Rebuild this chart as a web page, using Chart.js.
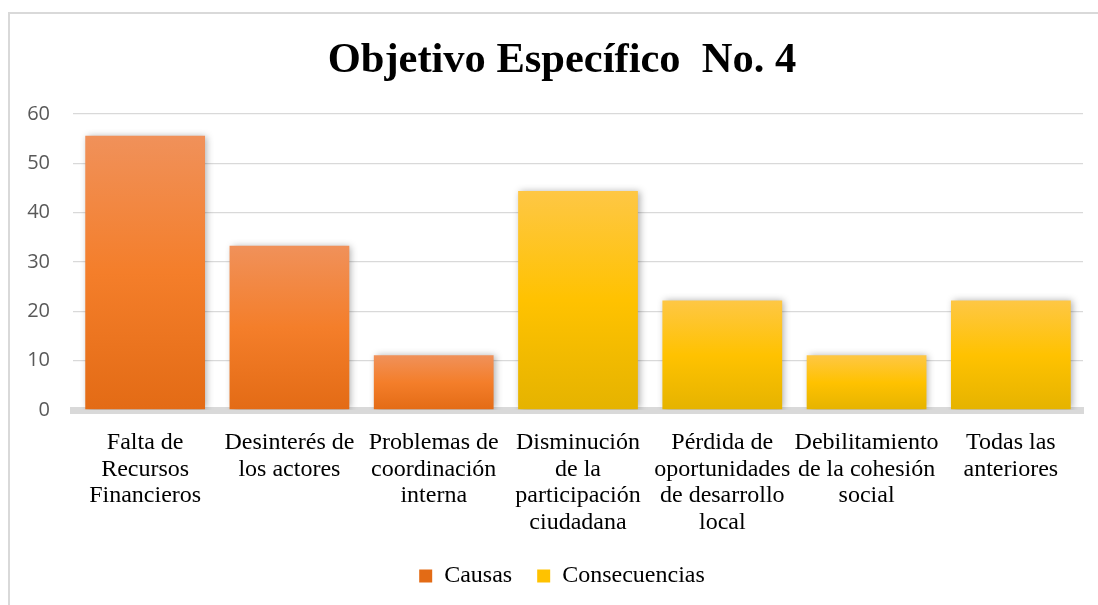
<!DOCTYPE html>
<html>
<head>
<meta charset="utf-8">
<script src="https://cdn.jsdelivr.net/npm/chart.js@4"></script>
<style>
  html, body { margin: 0; padding: 0; background: #fff; overflow: hidden; width: 1098px; height: 605px; }
  #frame { position: absolute; left: 8px; top: 12px; width: 1200px; height: 700px; border-left: 2px solid #d9d9d9; border-top: 2px solid #d9d9d9; }
  #chart { position: absolute; left: 8px; top: 0; }
</style>
</head>
<body>
<div id="frame"></div>
<canvas id="chart" width="1108" height="605"></canvas>
<script>
const categories = [
  ['Falta de', 'Recursos', 'Financieros'],
  ['Desinterés de', 'los actores'],
  ['Problemas de', 'coordinación', 'interna'],
  ['Disminución', 'de la', 'participación', 'ciudadana'],
  ['Pérdida de', 'oportunidades', 'de desarrollo', 'local'],
  ['Debilitamiento', 'de la cohesión', 'social'],
  ['Todas las', 'anteriores']
]
const causas = [55.6, 33.3, 11.1, null, null, null, null]
const consecuencias = [null, null, null, 44.4, 22.2, 11.1, 22.2]
const yTicks = [0, 10, 20, 30, 40, 50, 60]

const orangeStops = ['#F0915A', '#F47E2A', '#E36B15']
const yellowStops = ['#FEC745', '#FFC200', '#E5B300']

// per-bar vertical gradient, lighter at the top like the Excel fill
function barFill(stops) {
  return (context) => {
    const chart = context.chart
    if (context.type !== 'data' || !chart.chartArea || context.raw == null) return stops[1]
    const yScale = chart.scales.y
    const top = yScale.getPixelForValue(context.raw)
    const bottom = yScale.getPixelForValue(0)
    if (!isFinite(top) || !isFinite(bottom) || top === bottom) return stops[1]
    const g = chart.ctx.createLinearGradient(0, top, 0, bottom)
    g.addColorStop(0, stops[0])
    g.addColorStop(0.5, stops[1])
    g.addColorStop(1, stops[2])
    return g
  }
}

const barShadow = {
  id: 'barShadow',
  beforeDatasetsDraw(chart) {
    const ctx = chart.ctx
    ctx.save()
    ctx.shadowColor = 'rgba(0, 0, 0, 0.32)'
    ctx.shadowBlur = 7
    ctx.shadowOffsetX = 2
    ctx.shadowOffsetY = 0
  },
  afterDatasetsDraw(chart) {
    chart.ctx.restore()
  }
}

new Chart(document.getElementById('chart'), {
  type: 'bar',
  data: {
    labels: categories,
    datasets: [
      { label: 'Causas', data: causas, backgroundColor: barFill(orangeStops) },
      { label: 'Consecuencias', data: consecuencias, backgroundColor: barFill(yellowStops) }
    ]
  },
  plugins: [barShadow],
  options: {
    responsive: false,
    animation: false,
    layout: { padding: { left: 0, right: 0, top: 0, bottom: 7 } },
    datasets: { bar: { barPercentage: 0.83, categoryPercentage: 1 } },
    plugins: {
      title: {
        display: true,
        text: 'Objetivo Específico  No. 4',
        color: '#000',
        font: { family: '"Liberation Serif", "Times New Roman", serif', size: 42.5, weight: 'bold', lineHeight: 1.2 },
        padding: { top: 36, bottom: 27 }
      },
      legend: {
        position: 'bottom',
        labels: {
          color: '#000',
          font: { family: '"Liberation Serif", "Times New Roman", serif', size: 24 },
          boxWidth: 13,
          boxHeight: 13,
          padding: 25
        }
      },
      tooltip: { enabled: false }
    },
    scales: {
      x: {
        stacked: true,
        grid: { display: false, drawTicks: false },
        border: { display: true, color: '#d9d9d9', width: 7 },
        ticks: {
          color: '#000',
          font: { family: '"Liberation Serif", "Times New Roman", serif', size: 24, lineHeight: 1.12 },
          maxRotation: 0,
          autoSkip: false,
          padding: 19
        },
        afterFit(scale) { scale.height = 129 }
      },
      y: {
        stacked: true,
        min: 0,
        max: 60,
        afterBuildTicks(scale) { scale.ticks = yTicks.map(v => ({ value: v })) },
        grid: { color: '#d9d9d9', lineWidth: 1.3, drawTicks: false },
        border: { display: false },
        ticks: {
          color: '#595959',
          font: { family: '"Open Sans", sans-serif', size: 20 },
          padding: 23
        },
        afterFit(scale) { scale.width = 65 }
      },
      // empty right-hand axis, only reserves the margin right of the plot
      yRight: {
        position: 'right',
        min: 0,
        max: 60,
        grid: { display: false, drawTicks: false },
        border: { display: false },
        ticks: { display: false },
        afterFit(scale) { scale.width = 33 }
      }
    }
  }
})
</script>
</body>
</html>
